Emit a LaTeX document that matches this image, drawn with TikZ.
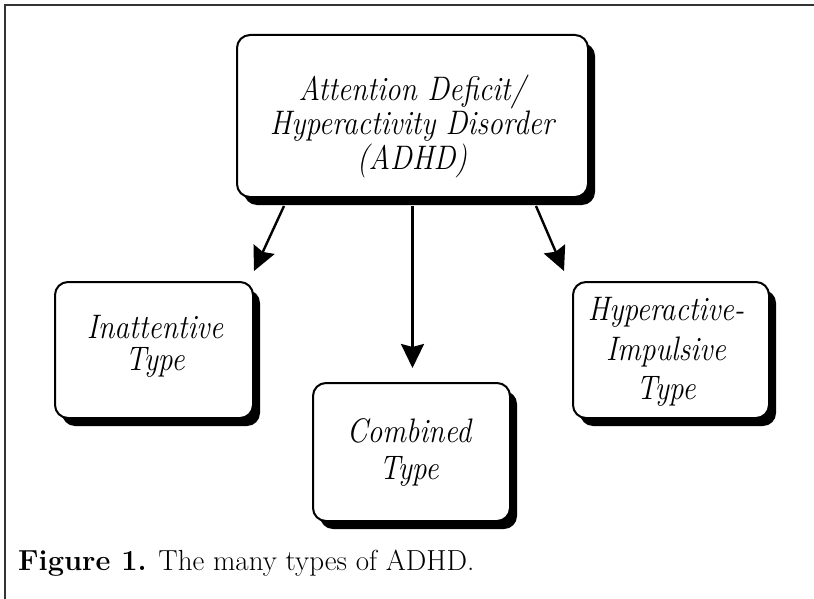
\documentclass[tikz,border=0pt]{standalone}
\usetikzlibrary{arrows.meta,shadows}
\begin{document}
\begin{tikzpicture}[x=1pt,y=-1pt,
  box/.style={draw=black, line width=2pt, fill=white, rounded corners=13pt,
    inner sep=0pt,
    drop shadow={shadow xshift=7pt, shadow yshift=-8pt, fill=black, opacity=1}},
  boxtext/.style={anchor=base, inner sep=0pt,
    font=\fontsize{34}{30}\itshape\selectfont},
  conn/.style={line width=2.4pt, -{Stealth[length=24pt,width=23pt,inset=3pt]}},
  frame/.style={line width=2pt, draw=black!80}]
\newcommand{\cond}[1]{\scalebox{0.87}[1]{\begin{tabular}[t]{@{}c@{}}#1\end{tabular}}}
\useasboundingbox (0,0) rectangle (814,599);
\draw[frame] (5,605) -- (5,5) -- (820,5);
\node[box, minimum width=351pt, minimum height=162pt] (top) at (412.5,116) {};
\node[box, minimum width=198pt, minimum height=136pt] (inat) at (154,350) {};
\node[box, minimum width=197pt, minimum height=138pt] (comb) at (411.5,452) {};
\node[box, minimum width=196pt, minimum height=136pt] (hyp) at (671,350) {};
\node[boxtext] (toptext) at (412,101)
  {\cond{Attention Deficit/\\[0.5pt]Hyperactivity Disorder\\[0.5pt](ADHD)}};
\node[boxtext] (inattext) at (155,338) {\cond{Inattentive\\Type}};
\node[boxtext] (combtext) at (409,442) {\cond{Combined\\[5pt]Type}};
\node[boxtext] (hyptext) at (666,320) {\cond{Hyperactive-\\[7.5pt]Impulsive\\[7.5pt]Type}};
\draw[conn] ([xshift=48pt,yshift=-8pt]top.south west) -- ([yshift=10pt]inat.north east);
\draw[conn] ([yshift=-8pt]top.south) -- ([yshift=14pt]top.south |- comb.north);
\draw[conn] ([xshift=-53pt,yshift=-8pt]top.south east) -- ([xshift=-8pt,yshift=10pt]hyp.north west);
\node[anchor=base west, inner sep=0pt, font=\fontsize{29}{32}\selectfont] (cap) at (18,570)
  {\textbf{Figure 1.} The many types of ADHD.};
\end{tikzpicture}
\end{document}
